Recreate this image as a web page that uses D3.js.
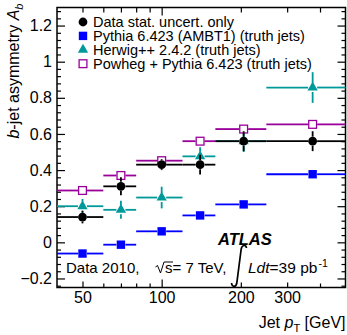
<!DOCTYPE html>
<html>
<head>
<meta charset="utf-8">
<script src="https://cdn.jsdelivr.net/npm/d3@7"></script>
<style>
  body { margin: 0; background: #fff; }
  svg { display: block; font-family: "Liberation Sans", Arial, Helvetica, sans-serif; }
  .axis path { stroke: #000; stroke-width: 1.5; }
  .axis line { stroke: #000; stroke-width: 1.2; }
  .axis text { font-size: 16px; fill: #000; }
</style>
</head>
<body>
<div id="chart"></div>
<script>
// bins in jet pT [GeV]
const binEdges = [40, 60, 80, 120, 160, 250, 500];
const binCenters = [50, 70, 100, 140, 205, 375];

// b-jet asymmetry per bin
const dataVals = [0.14, 0.31, 0.43, 0.43, 0.56, 0.56];
const dataErr = [0.035, 0.05, 0.03, 0.055, 0.055, 0.055];
const pythiaVals = [-0.062, -0.013, 0.061, 0.149, 0.21, 0.377];
const pythiaErr = [0.01, 0.01, 0.01, 0.01, 0.012, 0.012];
const herwigVals = [0.2, 0.18, 0.248, 0.476, 0.56, 0.857];
const herwigErr = [0.04, 0.05, 0.06, 0.05, 0.06, 0.085];
const powhegVals = [0.287, 0.37, 0.452, 0.56, 0.627, 0.653];
const powhegErr = [0.015, 0.015, 0.015, 0.015, 0.015, 0.02];

const legendLabels = [
    "Data stat. uncert. only",
    "Pythia 6.423 (AMBT1) (truth jets)",
    "Herwig++ 2.4.2 (truth jets)",
    "Powheg + Pythia 6.423 (truth jets)"
];

const xLabelTicks = [50, 100, 200, 300];
const xMinorTicks = [60, 70, 80, 90, 400];
const yMajorTicks = [-0.2, 0, 0.2, 0.4, 0.6, 0.8, 1, 1.2];

const W = 347, H = 335;
const pLeft = 57, pRight = 345.5, pTop = 7.5, pBottom = 287.5;

const svg = d3.select("#chart").append("svg")
    .attr("width", W).attr("height", H);

const x = d3.scaleLog().domain([40, 500]).range([pLeft, pRight]);
const y = d3.scaleLinear().domain([-0.25, 1.3]).range([pBottom, pTop]);

// minor y ticks every 0.04
const yMinorTicks = d3.range(-0.24, 1.3, 0.04)
    .map(v => Math.round(v * 100) / 100)
    .filter(v => !yMajorTicks.some(m => Math.abs(m - v) < 1e-6));

const fmtY = d => d === 0 ? "0" : d3.format(".1f")(d).replace(/\.0$/, "");

// frame
svg.append("rect")
    .attr("x", pLeft).attr("y", pTop)
    .attr("width", pRight - pLeft).attr("height", pBottom - pTop)
    .attr("fill", "none").attr("stroke", "#000").attr("stroke-width", 1.5);

// y axis (left), ticks inward
svg.append("g").attr("class", "axis")
    .attr("transform", `translate(${pLeft},0)`)
    .call(d3.axisLeft(y).tickValues(yMajorTicks).tickSizeInner(-8).tickSizeOuter(0).tickPadding(5).tickFormat(fmtY));
svg.append("g").attr("class", "axis")
    .attr("transform", `translate(${pLeft},0)`)
    .call(d3.axisLeft(y).tickValues(yMinorTicks).tickSizeInner(-4).tickSizeOuter(0).tickFormat(""));
// right mirror
svg.append("g").attr("class", "axis")
    .attr("transform", `translate(${pRight},0)`)
    .call(d3.axisRight(y).tickValues(yMajorTicks).tickSizeInner(-8).tickSizeOuter(0).tickFormat(""));
svg.append("g").attr("class", "axis")
    .attr("transform", `translate(${pRight},0)`)
    .call(d3.axisRight(y).tickValues(yMinorTicks).tickSizeInner(-4).tickSizeOuter(0).tickFormat(""));

// x axis (bottom)
svg.append("g").attr("class", "axis")
    .attr("transform", `translate(0,${pBottom})`)
    .call(d3.axisBottom(x).tickValues(xLabelTicks).tickSizeInner(-5).tickSizeOuter(0).tickPadding(4).tickFormat(d3.format("d")))
    .selectAll(".tick line").attr("y2", d => d === 100 ? -8 : d === 50 ? -6 : -5);
svg.append("g").attr("class", "axis")
    .attr("transform", `translate(0,${pBottom})`)
    .call(d3.axisBottom(x).tickValues(xMinorTicks).tickSizeInner(-4).tickSizeOuter(0).tickFormat(""));
// top mirror
svg.append("g").attr("class", "axis")
    .attr("transform", `translate(0,${pTop})`)
    .call(d3.axisTop(x).tickValues(xLabelTicks.concat(xMinorTicks)).tickSizeInner(-5).tickSizeOuter(0).tickFormat(""))
    .selectAll(".tick line").attr("y2", d => d === 100 ? 8 : 5);

svg.selectAll(".axis path.domain").remove();

// axis titles
const yTitle = svg.append("text")
    .attr("transform", `translate(18.5,${pTop - 4}) rotate(-90)`)
    .attr("text-anchor", "end")
    .style("font-size", "16px");
yTitle.append("tspan").attr("font-style", "italic").text("b");
yTitle.append("tspan").text("-jet asymmetry ");
yTitle.append("tspan").attr("font-style", "italic").text("A");
yTitle.append("tspan").attr("font-style", "italic").attr("font-size", "11px").attr("dy", 4).text("b");

const xTitle = svg.append("text")
    .attr("x", pRight).attr("y", 328)
    .attr("text-anchor", "end")
    .style("font-size", "16px");
xTitle.append("tspan").text("Jet ");
xTitle.append("tspan").attr("font-style", "italic").text("p");
xTitle.append("tspan").attr("font-size", "11px").attr("dy", 4).text("T");
xTitle.append("tspan").attr("dy", -4).text(" [GeV]");

// series
const series = [
    {vals: pythiaVals, errs: pythiaErr, color: "#0000ff", marker: "square"},
    {vals: herwigVals, errs: herwigErr, color: "#009999", marker: "triangle"},
    {vals: powhegVals, errs: powhegErr, color: "#990099", marker: "open"},
    {vals: dataVals, errs: dataErr, color: "#000000", marker: "circle"}
];

const gap = 4.5;

function drawMarker(g, type, color, cx, cy) {
    if (type === "circle") {
        g.append("circle").attr("cx", cx).attr("cy", cy).attr("r", 4.4).attr("fill", color);
    } else if (type === "square") {
        g.append("rect").attr("x", cx - 4.2).attr("y", cy - 4.2).attr("width", 8.4).attr("height", 8.4).attr("fill", color);
    } else if (type === "open") {
        g.append("rect").attr("x", cx - 3.9).attr("y", cy - 3.9).attr("width", 7.8).attr("height", 7.8)
            .attr("fill", "#fff").attr("stroke", color).attr("stroke-width", 1.3);
    } else {
        g.append("path").attr("d", d3.symbol(d3.symbolTriangle, 46)())
            .attr("transform", `translate(${cx},${cy})`).attr("fill", color);
    }
}

series.forEach(s => {
    const g = svg.append("g");
    s.vals.forEach((v, i) => {
        const cx = x(binCenters[i]), cy = y(v);
        const xl = x(binEdges[i]), xr = x(binEdges[i + 1]);
        const yt = y(v + s.errs[i]), yb = y(v - s.errs[i]);
        const seg = (x1, y1, x2, y2) => g.append("line")
            .attr("x1", x1).attr("y1", y1).attr("x2", x2).attr("y2", y2)
            .attr("stroke", s.color).attr("stroke-width", 1.8);
        seg(xl, cy, cx - gap, cy);
        seg(cx + gap, cy, xr, cy);
        if (cy - yt > gap) seg(cx, yt, cx, cy - gap);
        if (yb - cy > gap) seg(cx, cy + gap, cx, yb);
        drawMarker(g, s.marker, s.color, cx, cy);
    });
});

// legend
const legendMarkers = ["circle", "square", "triangle", "open"];
const legendColors = ["#000000", "#0000ff", "#009999", "#990099"];
const legend = svg.append("g");
legendLabels.forEach((label, i) => {
    const ly = 22 + i * 13.9;
    drawMarker(legend, legendMarkers[i], legendColors[i], 83, ly);
    legend.append("text")
        .attr("x", 93).attr("y", ly + 5)
        .style("font-size", "14.5px")
        .text(label);
});

// ATLAS label
svg.append("text")
    .attr("x", 218).attr("y", 245)
    .style("font-size", "16.5px").style("font-weight", "bold").style("font-style", "italic")
    .text("ATLAS");

// Data 2010, sqrt(s) = 7 TeV, int L dt = 39 pb-1
svg.append("text").attr("x", 66).attr("y", 273).style("font-size", "15px").text("Data 2010,");
svg.append("path")
    .attr("d", "M155.5,267 L157.5,265.5 L160.5,273 L164,262 L173,262")
    .attr("fill", "none").attr("stroke", "#000").attr("stroke-width", 1);
svg.append("text").attr("x", 165).attr("y", 273).style("font-size", "15px").text("s= 7 TeV,");
svg.append("path")
    .attr("d", "M231.5,283 C232,287.5 236,287.5 236.8,283 L241.2,249 C242,244.5 246,244.5 246.5,248")
    .attr("fill", "none").attr("stroke", "#000").attr("stroke-width", 1.7);
const lumi = svg.append("text").attr("x", 248).attr("y", 273).style("font-size", "15.5px");
lumi.append("tspan").attr("font-style", "italic").text("Ldt");
lumi.append("tspan").text("=39 pb");
lumi.append("tspan").attr("font-size", "10.5px").attr("dx", 1).attr("dy", -6).text("-1");
</script>
</body>
</html>
